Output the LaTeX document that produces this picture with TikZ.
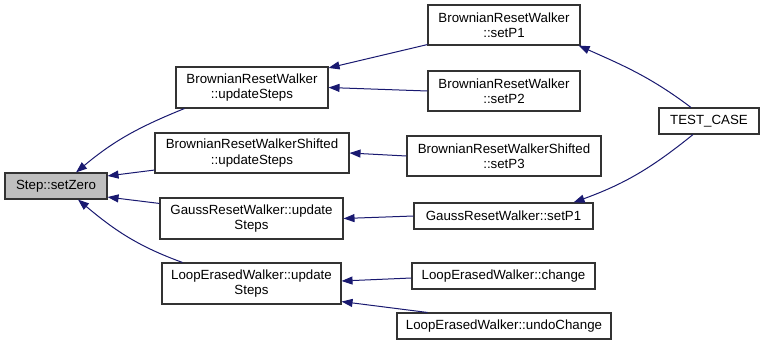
\documentclass[tikz,border=0pt]{standalone}
\usepackage{fontspec}
\setmainfont{Liberation Sans}
\usetikzlibrary{arrows.meta}
\definecolor{edgeblue}{RGB}{25,25,112}
\definecolor{boxgray}{RGB}{191,191,191}

\tikzset{
    fnbox/.style={draw=black!80, line width=1.1pt, rectangle, inner sep=0pt,
        align=center, font=\fontsize{13.3}{15.5}\selectfont},
    callarrow/.style={edgeblue, line width=1pt, -{Triangle[length=11pt, width=8pt]}}
}

\begin{document}
\begin{tikzpicture}[x=1pt, y=-1pt]
    \useasboundingbox (0,0) rectangle (765,345);

    % function in focus
    \node[fnbox, fill=boxgray, minimum width=102pt, minimum height=26pt] (zero) at (56,186) {Step::setZero};

    % direct callers
    \node[fnbox, minimum width=152pt, minimum height=41pt] (brwUpd) at (252,87.5) {BrownianResetWalker\\::updateSteps};
    \node[fnbox, minimum width=194pt, minimum height=40pt] (brwsUpd) at (252,153) {BrownianResetWalkerShifted\\::updateSteps};
    \node[fnbox, minimum width=183pt, minimum height=41pt] (grwUpd) at (251.5,218.5) {GaussResetWalker::update\\Steps};
    \node[fnbox, minimum width=179pt, minimum height=41pt] (lewUpd) at (251.5,283.5) {LoopErasedWalker::update\\Steps};

    % second level
    \node[fnbox, minimum width=152pt, minimum height=40pt] (brwP1) at (504,25) {BrownianResetWalker\\::setP1};
    \node[fnbox, minimum width=152pt, minimum height=40pt] (brwP2) at (504,91) {BrownianResetWalker\\::setP2};
    \node[fnbox, minimum width=194pt, minimum height=40pt] (brwsP3) at (504,156) {BrownianResetWalkerShifted\\::setP3};
    \node[fnbox, minimum width=179pt, minimum height=26pt] (grwP1) at (503.5,216) {GaussResetWalker::setP1};
    \node[fnbox, minimum width=183pt, minimum height=26pt] (lewChange) at (503.5,276) {LoopErasedWalker::change};
    \node[fnbox, minimum width=214pt, minimum height=26pt] (lewUndo) at (504,326) {LoopErasedWalker::undoChange};

    % test driver
    \node[fnbox, minimum width=100pt, minimum height=26pt] (testCase) at (709,121) {TEST\_CASE};

    % calls into setZero
    \draw[callarrow] ([xshift=9pt]brwUpd.south west) to[out=202, in=40] ([xshift=20pt]zero.north);
    \draw[callarrow] ([yshift=3.5pt]brwsUpd.south west) -- ([yshift=-3.5pt]zero.north east);
    \draw[callarrow] ([yshift=-6pt]grwUpd.north west) -- ([yshift=2.5pt]zero.south east);
    \draw[callarrow] ([xshift=21pt]lewUpd.north west) to[out=160, in=-40] ([xshift=22pt]zero.south);

    % calls into updateSteps
    \draw[callarrow] ([yshift=1pt]brwP1.south west) -- ([yshift=-1.5pt]brwUpd.north east);
    \draw[callarrow] (brwP2.west) -- (brwUpd.east);
    \draw[callarrow] (brwsP3.west) -- (brwsUpd.east);
    \draw[callarrow] (grwP1.west) -- (grwUpd.east);
    \draw[callarrow] ([yshift=-2pt]lewChange.west) -- ([yshift=2.5pt]lewUpd.east);
    \draw[callarrow] ([xshift=31pt]lewUndo.north west) -- ([yshift=3pt]lewUpd.south east);

    % calls from the test
    \draw[callarrow] ([xshift=-18pt]testCase.north) to[out=143, in=-24] ([xshift=-2pt]brwP1.south east);
    \draw[callarrow] ([xshift=-16pt]testCase.south) to[out=219, in=20] ([xshift=-20pt]grwP1.north east);
\end{tikzpicture}
\end{document}
